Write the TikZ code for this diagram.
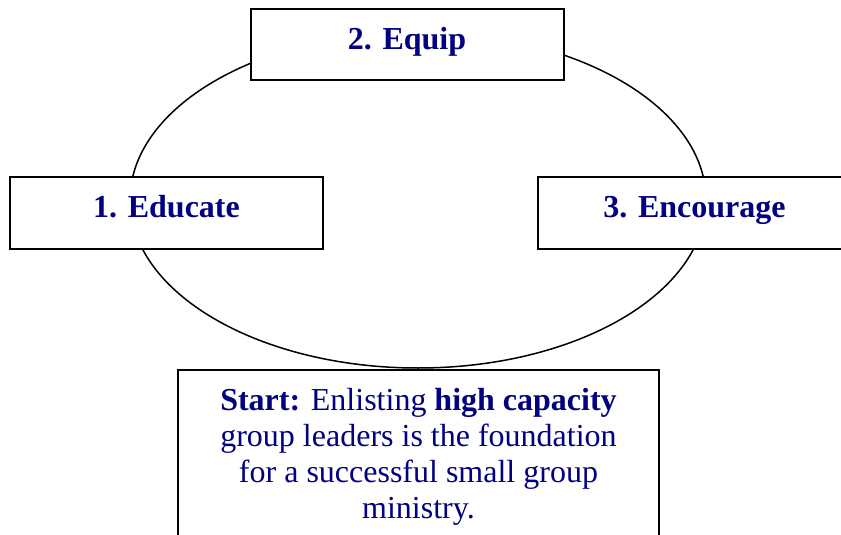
\documentclass[tikz,border=0pt]{standalone}
\usepackage{fontspec}
\setmainfont{Liberation Serif}
\usepackage{tikz}
\definecolor{navytext}{RGB}{0,0,128}
\begin{document}
\begin{tikzpicture}[x=0.5pt,y=-0.5pt,
  stagebox/.style={draw=black,line width=1pt,fill=white,inner sep=0pt,
    minimum width=156.5pt,minimum height=35.5pt,text=navytext,
    text height=9pt,text depth=4pt,
    font=\fontsize{16}{18}\selectfont\bfseries},
  startbox/.style={draw=black,line width=1pt,fill=white,anchor=north,
    minimum width=240.5pt,inner xsep=0pt,inner ysep=9pt,align=center,
    text=navytext,font=\fontsize{16}{18}\selectfont}]
\useasboundingbox (0,0) rectangle (841,535);
\draw [black,line width=0.75pt] (418,200) ellipse [x radius=144pt,y radius=84pt];
\node [stagebox] (equip) at (407,44.5) {2. Equip};
\node [stagebox] (edu) at (166.5,213) {1. Educate};
\node [stagebox] (enc) at (694.5,213) {3. Encourage};
\node [startbox] (start) at (418.5,369) {\textbf{Start:} Enlisting \textbf{high capacity}\\
group leaders is the foundation\\ for a successful small group\\ ministry.};
\end{tikzpicture}
\end{document}
